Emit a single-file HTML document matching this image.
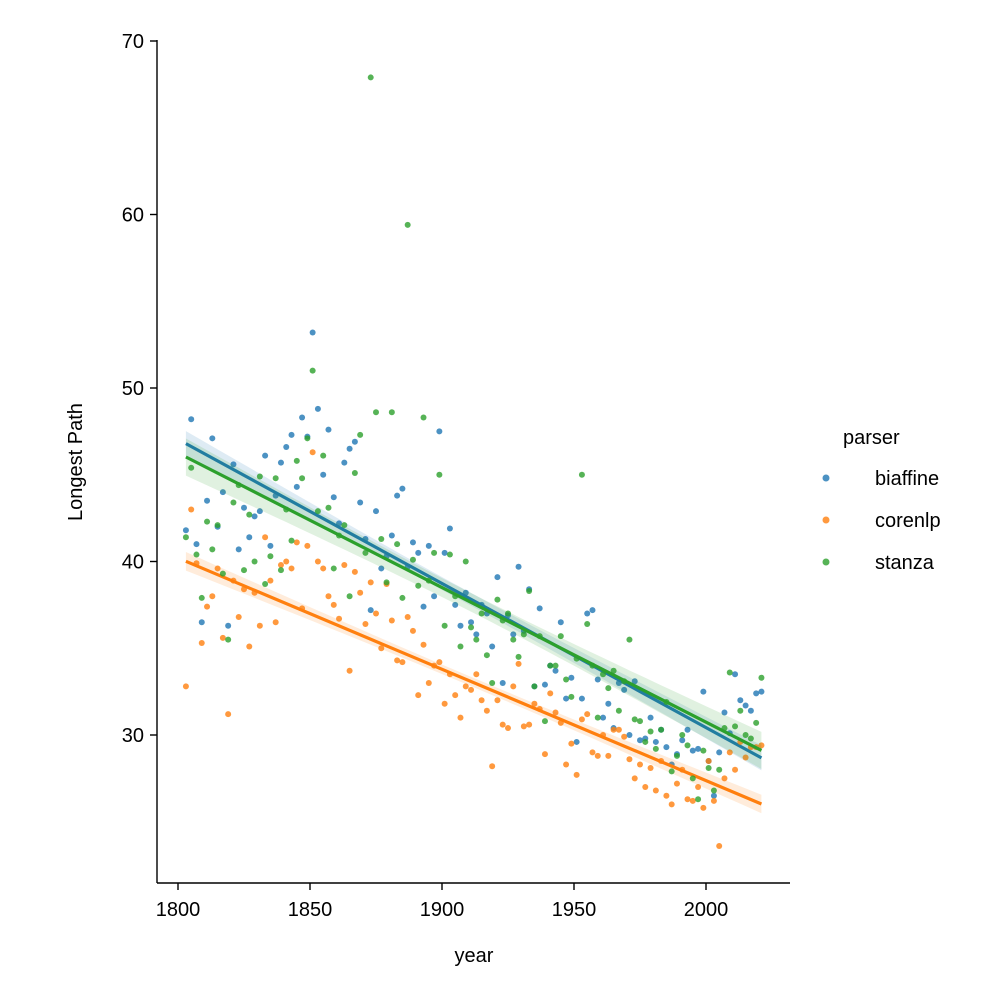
<!DOCTYPE html>
<html><head><meta charset="utf-8"><style>
html,body{margin:0;padding:0;background:#fff;}
svg{display:block;font-family:"Liberation Sans","DejaVu Sans",sans-serif;}
</style></head><body>
<svg id="chart" width="1003" height="1000" viewBox="0 0 1003 1000" xmlns="http://www.w3.org/2000/svg">
<rect width="1003" height="1000" fill="#fff"/>
<g id="plot"></g>
<g id="axes"></g>
<g id="legend"></g>
</svg>
<script>
const years = [];
for (let y = 1803; y <= 2021; y += 2) years.push(y);
const biaffine = [41.8,48.2,41.0,36.5,43.5,47.1,42.0,44.0,36.3,45.6,
40.7,43.1,41.4,42.6,42.9,46.1,40.9,43.8,45.7,46.6,
47.3,44.3,48.3,47.2,53.2,48.8,45.0,47.6,43.7,42.2,
45.7,46.5,46.9,43.4,41.3,37.2,42.9,39.6,40.3,41.5,
43.8,44.2,39.7,41.1,40.5,37.4,40.9,38.0,47.5,40.5,
41.9,37.5,36.3,38.2,36.5,35.8,37.5,37.0,35.1,39.1,
33.0,36.9,35.8,39.7,36.0,38.4,32.8,37.3,32.9,34.0,
33.7,36.5,32.1,33.3,29.6,32.1,37.0,37.2,33.2,31.0,
31.8,30.4,33.0,32.6,30.0,33.1,29.7,29.8,31.0,29.6,
30.3,29.3,28.3,28.9,29.7,30.3,29.1,29.2,32.5,28.5,
26.5,29.0,31.3,30.1,33.5,32.0,31.7,31.4,32.4,32.5];
const corenlp = [32.8,43.0,39.9,35.3,37.4,38.0,39.6,35.6,31.2,38.9,
36.8,38.4,35.1,38.2,36.3,41.4,38.9,36.5,39.8,40.0,
39.6,41.1,37.3,40.9,46.3,40.0,39.6,38.0,37.5,36.7,
39.8,33.7,39.4,38.2,36.4,38.8,37.0,35.0,38.7,36.6,
34.3,34.2,36.8,36.0,32.3,35.2,33.0,34.0,34.2,31.8,
33.5,32.3,31.0,32.8,32.6,33.5,32.0,31.4,28.2,32.0,
30.6,30.4,32.8,34.1,30.5,30.6,31.8,31.5,28.9,32.4,
31.3,30.7,28.3,29.5,27.7,30.9,31.2,29.0,28.8,30.0,
28.8,30.3,30.3,29.9,28.6,27.5,28.3,27.0,28.1,26.8,
28.5,26.5,26.0,27.2,28.0,26.3,26.2,27.0,25.8,28.5,
26.2,23.6,27.5,29.0,28.0,29.6,28.7,29.3,29.3,29.4];
const stanza = [41.4,45.4,40.4,37.9,42.3,40.7,42.1,39.3,35.5,43.4,
44.4,39.5,42.7,40.0,44.9,38.7,40.3,44.8,39.5,43.0,
41.2,45.8,44.8,47.1,51.0,42.9,46.1,43.1,39.6,41.5,
42.1,38.0,45.1,47.3,40.5,67.9,48.6,41.3,38.8,48.6,
41.0,37.9,59.4,40.1,38.6,48.3,38.9,40.5,45.0,36.3,
40.4,38.0,35.1,40.0,36.2,35.5,37.0,34.6,33.0,37.8,
36.6,37.0,35.5,34.5,35.8,38.3,32.8,35.7,30.8,34.0,
34.0,35.7,33.2,32.2,34.4,45.0,36.4,34.0,31.0,33.5,
32.7,33.7,31.4,33.1,35.5,30.9,30.8,29.6,30.2,29.2,
30.3,31.9,27.9,28.8,30.0,29.4,27.5,26.3,29.1,28.1,
26.8,28.0,30.4,33.6,30.5,31.4,30.0,29.8,30.7,33.3];
const seriesNames = ["biaffine","corenlp","stanza"];
const xTicks = [1800,1850,1900,1950,2000];
const yTicks = [30,40,50,60,70];

const NS = "http://www.w3.org/2000/svg";
const X = v => 178 + (v - 1800) * 2.64;
const Y = v => 735 - (v - 30) * 17.35;
const colors = ["#1f77b4","#ff7f0e","#2ca02c"];
const data = [biaffine, corenlp, stanza];
function mk(tag, attrs, parent){const e=document.createElementNS(NS,tag);for(const k in attrs)e.setAttribute(k,attrs[k]);parent.appendChild(e);return e;}
const plot = document.getElementById('plot');
const axes = document.getElementById('axes');
const legend = document.getElementById('legend');

data.forEach((vals, si) => {
  const g = mk('g', {}, plot);
  
  
  vals.forEach((v, i) => {
    const c = mk('circle', {cx: X(years[i]), cy: Y(v), r: 3, fill: colors[si], 'fill-opacity': 0.8}, g);
    
    
  });
  const n = vals.length;
  let mx = 0, my = 0;
  for (let i = 0; i < n; i++) { mx += years[i]; my += vals[i]; }
  mx /= n; my /= n;
  let sxy = 0, sxx = 0;
  for (let i = 0; i < n; i++) { sxy += (years[i]-mx)*(vals[i]-my); sxx += (years[i]-mx)**2; }
  const b = sxy / sxx, a = my - b * mx;
  let sse = 0;
  for (let i = 0; i < n; i++) sse += (vals[i] - a - b*years[i])**2;
  const s = Math.sqrt(sse / (n - 2));
  const x0 = years[0], x1 = years[n-1];
  const up = [], dn = [];
  for (let k = 0; k <= 40; k++) {
    const xv = x0 + (x1 - x0) * k / 40;
    const se = 1.2 * s * Math.sqrt(1/n + (xv-mx)**2/sxx);
    const yv = a + b*xv;
    up.push(X(xv).toFixed(1)+','+Y(yv+se).toFixed(1));
    dn.unshift(X(xv).toFixed(1)+','+Y(yv-se).toFixed(1));
  }
  const band = mk('polygon', {points: up.concat(dn).join(' '), fill: colors[si], 'fill-opacity': 0.15}, g);
  
  
  const ln = mk('line', {x1: X(x0), y1: Y(a+b*x0), x2: X(x1), y2: Y(a+b*x1), stroke: colors[si], 'stroke-width': 3.2}, g);
  
  
});

const sl = mk('line', {x1:157, y1:40, x2:157, y2:883, stroke:'#000', 'stroke-width':1.4}, axes);


const sb = mk('line', {x1:157, y1:883, x2:790, y2:883, stroke:'#000', 'stroke-width':1.4}, axes);


xTicks.forEach(t => {
  const tk = mk('line', {x1:X(t), y1:883, x2:X(t), y2:890, stroke:'#000', 'stroke-width':1.4}, axes);
  
  
  const tx = mk('text', {x:X(t), y:916, 'text-anchor':'middle', 'font-size':20}, axes);
  tx.textContent = t;
  
  
});
yTicks.forEach(t => {
  const tk = mk('line', {x1:150, y1:Y(t), x2:157, y2:Y(t), stroke:'#000', 'stroke-width':1.4}, axes);
  
  
  const tx = mk('text', {x:144, y:Y(t)+7, 'text-anchor':'end', 'font-size':20}, axes);
  tx.textContent = t;
  
  
});
const xl = mk('text', {x:474, y:962, 'text-anchor':'middle', 'font-size':20}, axes);
xl.textContent = 'year';


const yl = mk('text', {x:0, y:0, 'text-anchor':'middle', 'font-size':20, transform:'translate(82,462) rotate(-90)'}, axes);
yl.textContent = 'Longest Path';



const lt = mk('text', {x:843, y:444, 'font-size':20}, legend);
lt.textContent = 'parser';


seriesNames.forEach((nm, i) => {
  const yy = 478 + i*42;
  const c = mk('circle', {cx:826, cy:yy, r:3.5, fill:colors[i], 'fill-opacity':0.8}, legend);
  
  
  const t = mk('text', {x:875, y:yy+7, 'font-size':20}, legend);
  t.textContent = nm;
  
  
});
</script>
</body></html>
